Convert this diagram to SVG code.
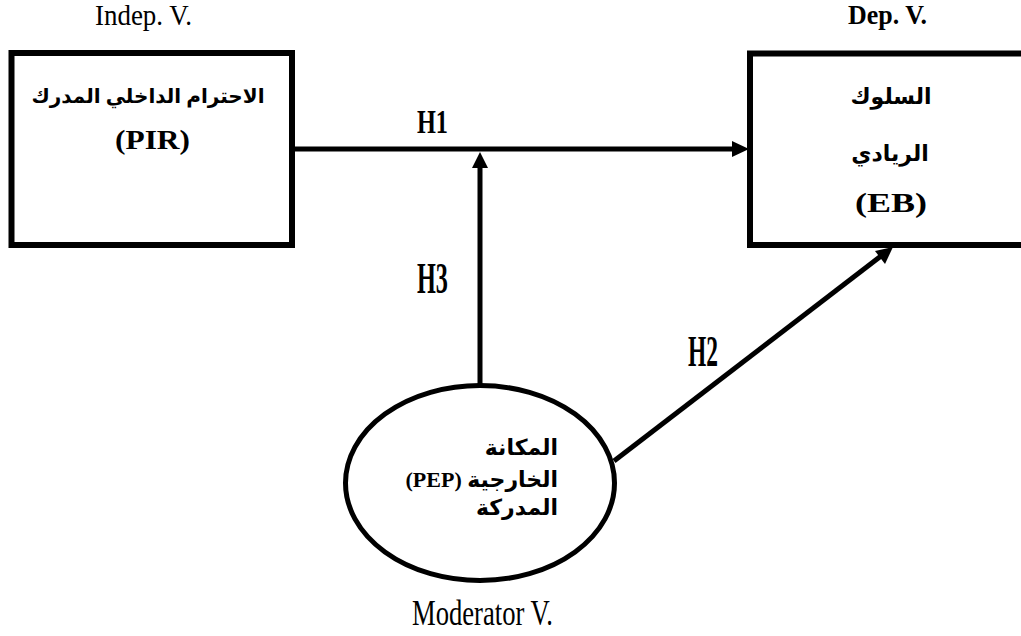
<svg xmlns="http://www.w3.org/2000/svg" width="1021" height="636" viewBox="0 0 1021 636">
<style>
.box{fill:#fff;stroke:#000;stroke-width:6}
.ell{fill:#fff;stroke:#000;stroke-width:5}
.ln{stroke:#000;stroke-width:5;fill:none}
.ah{fill:#000}
.lbl{font-family:"Liberation Serif","Times New Roman",serif;fill:#000}
.hyp{font-family:"Liberation Serif","Times New Roman",serif;font-weight:bold;fill:#000}
.ar{font-family:"Liberation Serif","DejaVu Sans",serif;font-size:22px;font-weight:bold;fill:#000}
.lat{font-family:"Liberation Serif","Times New Roman",serif;font-size:28px;font-weight:bold;fill:#000}
</style>
<rect width="1021" height="636" fill="#fff"/>
<g id="connectors">
<line class="ln" x1="295" y1="149" x2="734" y2="149"/>
<polygon class="ah" points="749,149 732,141 732,157"/>
<line class="ln" x1="480" y1="386" x2="480" y2="166"/>
<polygon class="ah" points="480,152 472,168 488,168"/>
<line class="ln" x1="614" y1="461" x2="881" y2="256"/>
<polygon class="ah" points="893,247 875,251 885,264"/>
<text class="hyp" x="417" y="133" style="font-size:33px" textLength="31" lengthAdjust="spacingAndGlyphs">H1</text>
<text class="hyp" x="417" y="293" style="font-size:45px" textLength="31" lengthAdjust="spacingAndGlyphs">H3</text>
<text class="hyp" x="688" y="366" style="font-size:45px" textLength="30" lengthAdjust="spacingAndGlyphs">H2</text>
</g>
<g id="indep">
<text class="lbl" x="95" y="25" style="font-size:30px" textLength="97" lengthAdjust="spacingAndGlyphs">Indep. V.</text>
<rect class="box" x="11.5" y="53" width="280.5" height="192"/>
<text class="ar" x="148" y="103" text-anchor="middle" style="font-size:20px">الاحترام الداخلي المدرك</text>
<text class="lat" x="115" y="149" textLength="75" lengthAdjust="spacingAndGlyphs">(PIR)</text>
</g>
<g id="dep">
<text class="lbl" x="848" y="24" style="font-size:27px;font-weight:bold" textLength="79" lengthAdjust="spacingAndGlyphs">Dep. V.</text>
<rect class="box" x="750" y="53.5" width="300" height="191.5"/>
<text class="ar" x="891" y="104" text-anchor="middle">السلوك</text>
<text class="ar" x="890" y="161" text-anchor="middle">الريادي</text>
<text class="lat" x="855" y="212" textLength="72" lengthAdjust="spacingAndGlyphs">(EB)</text>
</g>
<g id="moderator">
<ellipse class="ell" cx="480" cy="483" rx="134.5" ry="97.5"/>
<text class="ar" x="558" y="455" text-anchor="end">المكانة</text>
<text class="ar" x="558" y="487" text-anchor="end">(PEP) الخارجية</text>
<text class="ar" x="558" y="515" text-anchor="end">المدركة</text>
<text class="lbl" x="412" y="625" style="font-size:36px" textLength="141" lengthAdjust="spacingAndGlyphs">Moderator V.</text>
</g>
</svg>
